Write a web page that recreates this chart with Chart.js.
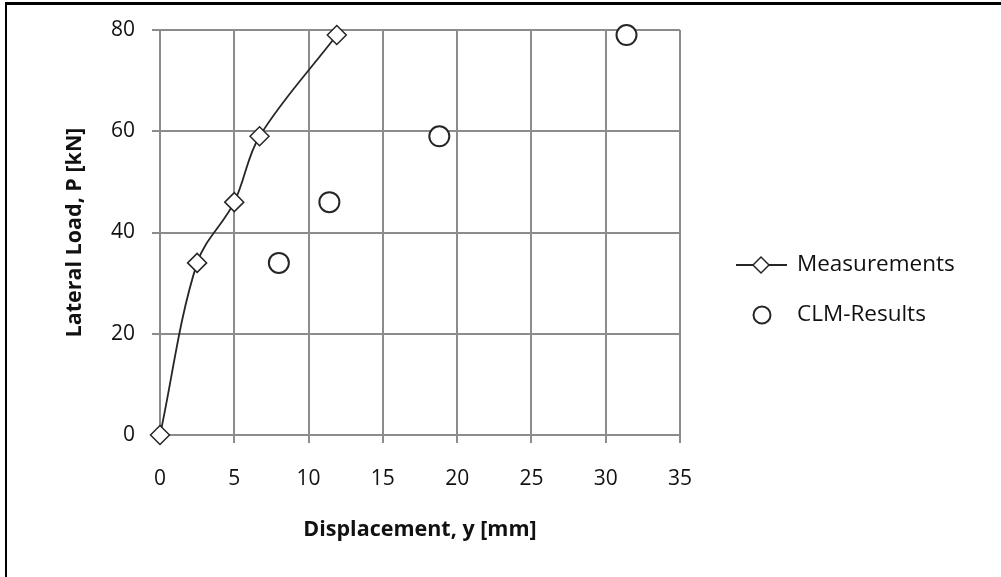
<!DOCTYPE html>
<html>
<head>
<meta charset="utf-8">
<script src="https://cdn.jsdelivr.net/npm/chart.js@4.4.1/dist/chart.umd.min.js"></script>
<style>
  html, body { margin: 0; padding: 0; background: #fff; }
  #frame { position: relative; width: 1001px; height: 577px; overflow: hidden; }
  #edge { position: absolute; left: 5px; top: 2px; width: 1100px; height: 700px;
          border-top: 3px solid #000; border-left: 2px solid #000; box-sizing: border-box; }
  canvas { position: absolute; left: 0; top: 0; }
</style>
</head>
<body>
<div id="frame">
  <div id="edge"></div>
  <canvas id="chart" width="1001" height="577"></canvas>
</div>
<script>
// Measured pile response and CLM predictions (displacement in mm, load in kN)
const measuredDisp = [0, 2.5, 5.0, 6.7, 11.9];
const measuredLoad = [0, 34, 46, 59, 79];
const clmDisp = [8.0, 11.4, 18.8, 31.4];
const clmLoad = [34, 46, 59, 79];

const seriesNames = ['Measurements', 'CLM-Results'];
const xTitle = 'Displacement, y [mm]';
const yTitle = 'Lateral Load, P [kN]';
const xTicks = [0, 5, 10, 15, 20, 25, 30, 35];
const yTicks = [0, 20, 40, 60, 80];

const FONT = "'Open Sans', 'DejaVu Sans', sans-serif";
const INK = '#111111';
const GRID = '#8c8c8c';

function toPoints(xs, ys) { return xs.map((x, i) => ({ x: x, y: ys[i] })); }

// Legend drawn beside the plot: line + marker sample, then the series name
const sideLegend = {
  id: 'sideLegend',
  afterDraw(chart) {
    const ctx = chart.ctx;
    const rows = [
      { ds: chart.data.datasets[0], y: 265, x: 761, line: true },
      { ds: chart.data.datasets[1], y: 315, x: 762, line: false }
    ];
    ctx.save();
    rows.forEach(r => {
      const ds = r.ds;
      if (r.line) {
        ctx.strokeStyle = ds.borderColor;
        ctx.lineWidth = ds.borderWidth;
        ctx.beginPath();
        ctx.moveTo(736, r.y);
        ctx.lineTo(787, r.y);
        ctx.stroke();
      }
      ctx.strokeStyle = ds.pointBorderColor;
      ctx.fillStyle = ds.pointBackgroundColor;
      ctx.lineWidth = ds.pointBorderWidth;
      Chart.helpers.drawPoint(ctx, {
        pointStyle: ds.pointStyle,
        radius: ds.pointRadius - 1.5,
        rotation: 0,
        borderWidth: ds.pointBorderWidth
      }, r.x, r.y);
      ctx.fillStyle = INK;
      ctx.font = "22.5px " + FONT;
      ctx.textBaseline = 'middle';
      ctx.textAlign = 'left';
      ctx.fillText(ds.label, 797, r.y);
    });
    ctx.restore();
  }
};

new Chart(document.getElementById('chart'), {
  type: 'scatter',
  data: {
    datasets: [
      {
        label: seriesNames[0],
        data: toPoints(measuredDisp, measuredLoad),
        showLine: true,
        clip: false,
        tension: 0.35,
        borderColor: '#262626',
        borderWidth: 1.8,
        pointStyle: 'rectRot',
        pointRadius: 9.5,
        pointBorderWidth: 1.5,
        pointBorderColor: '#262626',
        pointBackgroundColor: '#ffffff'
      },
      {
        label: seriesNames[1],
        data: toPoints(clmDisp, clmLoad),
        showLine: false,
        clip: false,
        pointStyle: 'circle',
        pointRadius: 10,
        pointBorderWidth: 2,
        pointBorderColor: '#262626',
        pointBackgroundColor: '#ffffff'
      }
    ]
  },
  options: {
    responsive: false,
    animation: false,
    events: [],
    layout: { padding: { left: 0, top: 30, right: 321, bottom: 0 } },
    plugins: { legend: { display: false }, tooltip: { enabled: false } },
    scales: {
      x: {
        type: 'linear',
        min: 0, max: 35,
        afterFit(scale) { scale.height = 142; },
        afterBuildTicks(scale) { scale.ticks = xTicks.map(v => ({ value: v })); },
        grid: { color: GRID, lineWidth: 2, tickLength: 8, tickColor: GRID, drawTicks: true },
        border: { color: GRID, width: 2 },
        ticks: { color: INK, font: { family: FONT, size: 21 }, padding: 23, maxRotation: 0 },
        title: { display: true, text: xTitle, color: INK,
                 font: { family: FONT, size: 21.5, weight: 'bold' }, padding: { top: 0, bottom: 34 } }
      },
      y: {
        type: 'linear',
        min: 0, max: 80,
        afterFit(scale) { scale.width = 160; },
        afterBuildTicks(scale) { scale.ticks = yTicks.map(v => ({ value: v })); },
        grid: { color: GRID, lineWidth: 2, tickLength: 8, tickColor: GRID, drawTicks: true },
        border: { color: GRID, width: 2 },
        ticks: { color: INK, font: { family: FONT, size: 21 }, padding: 17 },
        title: { display: true, text: yTitle, color: INK,
                 font: { family: FONT, size: 21.5, weight: 'bold' }, padding: { top: 62, bottom: 0 } }
      }
    }
  },
  plugins: [sideLegend]
});
</script>
</body>
</html>
